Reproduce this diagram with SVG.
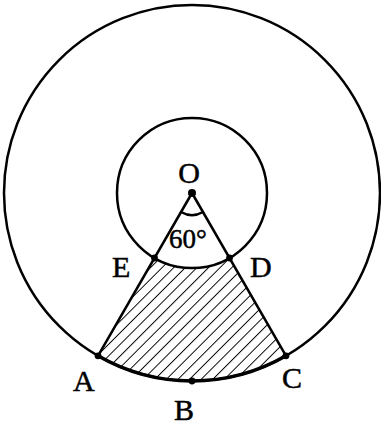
<svg xmlns="http://www.w3.org/2000/svg" width="381" height="428" viewBox="0 0 381 428">
<style>
.ln{fill:none;stroke:#000;stroke-width:2.5;stroke-linecap:round}
.lbl{font-family:"Liberation Serif","Times New Roman",serif;font-size:30px;fill:#000;stroke:#000;stroke-width:0.5}
.dot{fill:#000}
</style>
<defs>
<pattern id="hatch" patternUnits="userSpaceOnUse" width="8.2" height="8.2" patternTransform="rotate(45)">
<line x1="0" y1="0" x2="0" y2="8.2" stroke="#000" stroke-width="1.9"/>
</pattern>
</defs>
<rect width="381" height="428" fill="#fff"/>
<g id="shaded">
<path d="M154.5 258 L98 355.8 A188 188 0 0 0 286 355.8 L229.5 258 A75 75 0 0 1 154.5 258 Z" fill="url(#hatch)"/>
</g>
<g id="outer-circle"><circle class="ln" cx="192" cy="193" r="188"/></g>
<g id="inner-circle"><circle class="ln" cx="192" cy="193" r="75"/></g>
<g id="connectors">
<line class="ln" x1="192" y1="193" x2="98" y2="355.8"/>
<line class="ln" x1="192" y1="193" x2="286" y2="355.8"/>
<path class="ln" d="M98 355.8 A188 188 0 0 0 286 355.8" style="stroke-width:3.6"/>
<path class="ln" d="M181 212 A22 22 0 0 0 203 212"/>
</g>
<g id="O"><circle class="dot" cx="192" cy="193" r="4"/><text class="lbl" x="189" y="183" text-anchor="middle">O</text></g>
<g id="angle"><text class="lbl" x="169" y="248" style="font-size:27px">60°</text></g>
<g id="E"><circle class="dot" cx="154.5" cy="258" r="3.4"/><text class="lbl" x="112" y="277">E</text></g>
<g id="D"><circle class="dot" cx="229.5" cy="258" r="3.4"/><text class="lbl" x="250" y="277">D</text></g>
<g id="A"><circle class="dot" cx="98" cy="355.8" r="3.4"/><text class="lbl" x="73" y="391">A</text></g>
<g id="B"><circle class="dot" cx="192" cy="381" r="3.4"/><text class="lbl" x="174" y="420">B</text></g>
<g id="C"><circle class="dot" cx="286" cy="355.8" r="3.4"/><text class="lbl" x="282" y="388">C</text></g>
</svg>
